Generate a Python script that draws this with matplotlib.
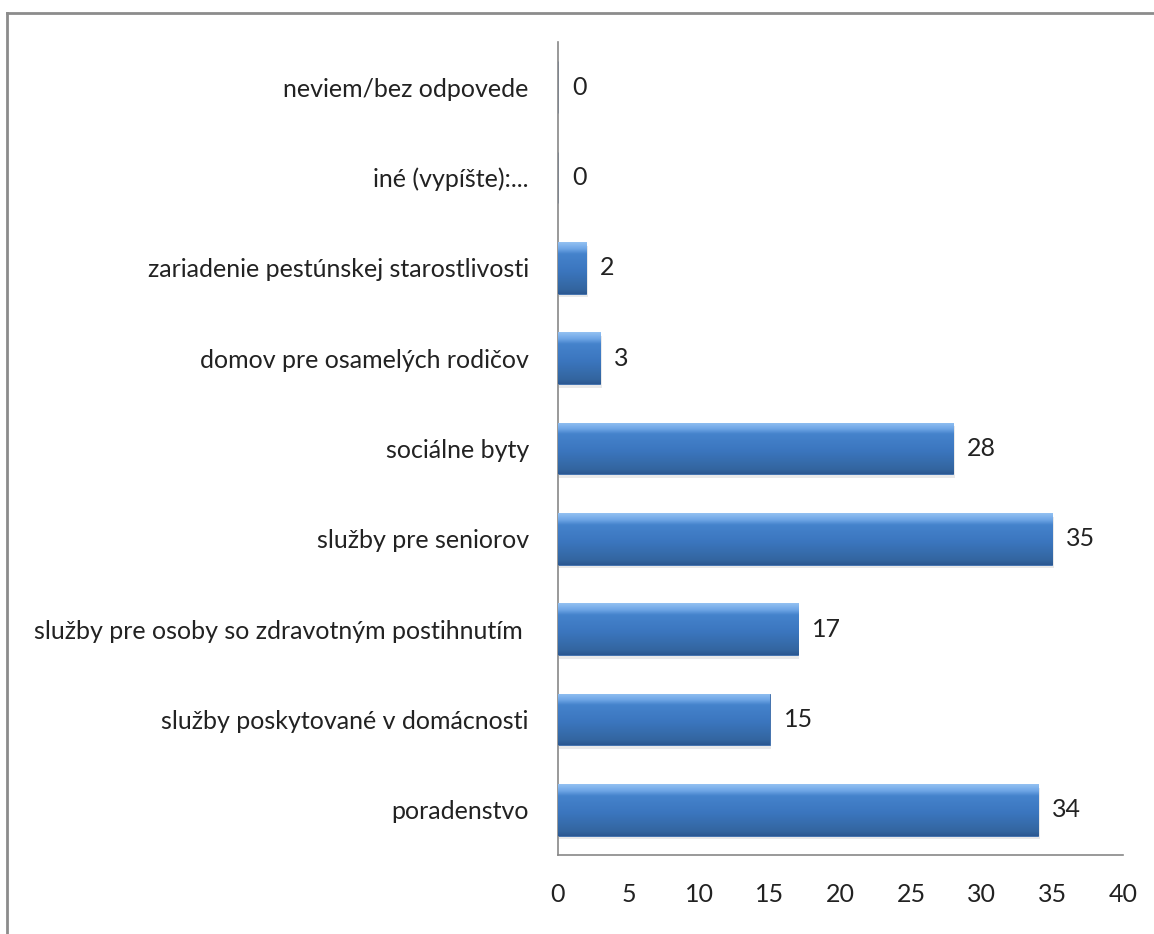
import matplotlib.pyplot as plt
import numpy as np
from matplotlib.colors import LinearSegmentedColormap
from matplotlib.lines import Line2D

categories = [
    "poradenstvo",
    "služby poskytované v domácnosti",
    "služby pre osoby so zdravotným postihnutím ",
    "služby pre seniorov",
    "sociálne byty",
    "domov pre osamelých rodičov",
    "zariadenie pestúnskej starostlivosti",
    "iné (vypíšte):...",
    "neviem/bez odpovede",
]
values = [34, 15, 17, 35, 28, 3, 2, 0, 0]
xticks = [0, 5, 10, 15, 20, 25, 30, 35, 40]

plt.rcParams['font.family'] = ['Lato', 'DejaVu Sans']

fig = plt.figure(figsize=(11.54, 9.34), dpi=100)
ax = fig.add_axes([0.4835, 0.0846, 0.4895, 0.8704])

# frame lines around the chart area (top and left only are visible)
fig.add_artist(Line2D([0.006, 1.0], [0.986, 0.986], transform=fig.transFigure, color='#8c8c8c', lw=2))
fig.add_artist(Line2D([0.006, 0.006], [0.0, 0.986], transform=fig.transFigure, color='#8c8c8c', lw=2))

y = np.arange(len(categories))
h = 0.57

# soft shadow
ax.barh(y - 0.04, values, height=h, left=0.1, color='#b8b8b8', alpha=0.3, zorder=1)
bars = ax.barh(y, values, height=h, color='#3d78c2', edgecolor='#3a6aa8', lw=0.6, zorder=2)

cmap = LinearSegmentedColormap.from_list('bev', [
    (0.0, '#2b5892'), (0.08, '#33659f'), (0.45, '#3b76bf'),
    (0.78, '#4583cc'), (0.88, '#6fa6e6'), (1.0, '#92c0f2')])
grad = np.linspace(0, 1, 64).reshape(-1, 1)
for b, v in zip(bars, values):
    if v <= 0:
        continue
    x0, y0 = b.get_x(), b.get_y()
    im = ax.imshow(grad, cmap=cmap, aspect='auto', origin='lower',
                   extent=[x0, x0 + v, y0, y0 + h], zorder=3)
    im.set_clip_path(b)

for yi, v in zip(y, values):
    ax.annotate(str(v), (v, yi), xytext=(10, 0), textcoords='offset points',
                ha='left', va='center', fontsize=18, color='#222222')

ax.set_xlim(0, 40)
ax.set_ylim(-0.5, len(categories) - 0.5)
ax.set_xticks(xticks)
ax.set_yticks(y)
ax.set_yticklabels(categories)
ax.tick_params(axis='both', length=0, labelsize=18, colors='#222222')
ax.tick_params(axis='y', pad=21)
ax.tick_params(axis='x', pad=20)
for s in ['top', 'right']:
    ax.spines[s].set_visible(False)
for s in ['left', 'bottom']:
    ax.spines[s].set_color('#888888')
    ax.spines[s].set_linewidth(1.2)

fig.savefig('out.png', dpi=100)
